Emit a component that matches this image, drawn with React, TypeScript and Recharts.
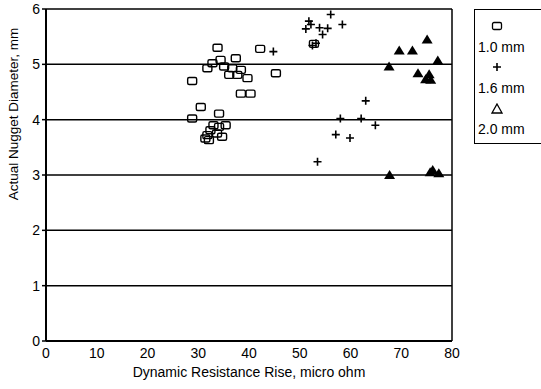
import {
  CartesianGrid,
  Legend,
  Scatter,
  ScatterChart,
  XAxis,
  YAxis,
} from 'recharts';

// [resistance rise (micro ohm), nugget diameter (mm)]
const electrode10: [number, number][] = [
  [33.8, 5.3], [42.2, 5.28], [45.3, 4.84], [31.8, 4.93], [32.8, 5.02], [34.4, 5.08],
  [37.4, 5.11], [35.1, 4.96], [36.7, 4.93], [36.1, 4.81], [37.7, 4.81], [38.4, 4.9],
  [39.7, 4.75], [28.8, 4.7], [38.4, 4.47], [40.3, 4.47], [30.5, 4.23], [28.8, 4.02],
  [34.1, 4.11], [33.0, 3.9], [34.1, 3.87], [35.4, 3.9], [32.4, 3.81], [33.7, 3.75],
  [31.8, 3.72], [32.1, 3.63], [34.7, 3.69], [31.4, 3.66], [52.8, 5.37],
];
const electrode16: [number, number][] = [
  [56.1, 5.9], [51.8, 5.78], [52.2, 5.72], [58.4, 5.72], [51.2, 5.64], [53.9, 5.66],
  [55.5, 5.65], [54.5, 5.54], [53.2, 5.38], [52.5, 5.34], [44.8, 5.23], [63.0, 4.34],
  [58.0, 4.02], [62.1, 4.02], [64.9, 3.9], [57.1, 3.73], [59.9, 3.67], [53.5, 3.24],
];
const electrode20: [number, number][] = [
  [75.1, 5.45], [69.6, 5.25], [72.2, 5.25], [77.2, 5.07], [67.6, 4.96], [73.3, 4.84],
  [75.5, 4.82], [74.8, 4.73], [75.8, 4.72], [67.7, 3.0], [76.2, 3.09], [77.4, 3.03],
  [75.7, 3.05],
];
const seriesNames = ['1.0 mm', '1.6 mm', '2.0 mm'];
const xTicks = [0, 10, 20, 30, 40, 50, 60, 70, 80];
const yTicks = [0, 1, 2, 3, 4, 5, 6];

const toPoints = (arr: [number, number][]) => arr.map(([x, y]) => ({ x, y }));

const FONT = '"Liberation Sans", Arial, sans-serif';

const SquareDot = (p: any) => (
  <rect x={p.cx - 4.5} y={p.cy - 3.5} width={9} height={7} rx={1.5} fill="none" stroke="#000" strokeWidth={1.4} />
);
const PlusDot = (p: any) => (
  <path d={`M${p.cx - 4},${p.cy}H${p.cx + 4}M${p.cx},${p.cy - 4}V${p.cy + 4}`} stroke="#000" strokeWidth={1.6} />
);
const TriDot = (p: any) => (
  <path d={`M${p.cx},${p.cy - 5}L${p.cx + 5.5},${p.cy + 4}L${p.cx - 5.5},${p.cy + 4}Z`} fill="#000" />
);

function LegendBox() {
  const icon = { height: 20.5, display: 'flex', alignItems: 'center', paddingLeft: 16 } as const;
  const txt = { height: 20.5, display: 'flex', alignItems: 'center', paddingLeft: 3 } as const;
  return (
    <div
      style={{
        border: '1.5px solid #000',
        borderRight: 'none',
        height: 135,
        boxSizing: 'border-box',
        paddingTop: 6,
        fontFamily: FONT,
        fontSize: 14,
        color: '#000',
        width: 67,
      }}
    >
      <div style={icon}>
        <svg width={12} height={10}><rect x={1.5} y={1.5} width={9} height={7} rx={1.5} fill="none" stroke="#000" strokeWidth={1.3} /></svg>
      </div>
      <div style={txt}>{seriesNames[0]}</div>
      <div style={icon}>
        <svg width={12} height={10}><path d="M2,5H10M6,1V9" stroke="#000" strokeWidth={1.6} /></svg>
      </div>
      <div style={txt}>{seriesNames[1]}</div>
      <div style={icon}>
        <svg width={12} height={11}><path d="M6,1L11,10L1,10Z" fill="none" stroke="#000" strokeWidth={1.3} /></svg>
      </div>
      <div style={txt}>{seriesNames[2]}</div>
    </div>
  );
}

const YTitle = () => (
  <text
    transform="translate(13,114) rotate(-90)"
    textAnchor="middle"
    dominantBaseline="central"
    fontSize={13.5}
    fontFamily={FONT}
    fill="#000"
  >
    Actual Nugget Diameter, mm
  </text>
);

export default function App() {
  const tick = { fill: '#000', fontSize: 14, fontFamily: FONT };
  return (
    <div style={{ position: 'absolute', left: 0, top: 0, width: 541, height: 389, overflow: 'hidden', background: '#fff' }}>
      {/* legend width gets added to the right offset, so margin.right is kept small */}
      <ScatterChart width={541} height={389} margin={{ top: 9, right: 22, left: 0, bottom: 0 }}>
        <CartesianGrid stroke="#000" strokeWidth={1.5} horizontalValues={yTicks} verticalValues={[80]} />
        <XAxis
          type="number"
          dataKey="x"
          domain={[0, 80]}
          ticks={xTicks}
          tickLine={false}
          axisLine={{ stroke: '#000', strokeWidth: 2 }}
          tick={tick}
          tickMargin={1}
          height={48}
          label={{ value: 'Dynamic Resistance Rise, micro ohm', position: 'insideBottom', offset: 12, fill: '#000', fontSize: 14, fontFamily: FONT }}
        />
        <YAxis
          type="number"
          dataKey="y"
          domain={[0, 6]}
          ticks={yTicks}
          tickSize={4}
          tickLine={{ stroke: '#000', strokeWidth: 1.5 }}
          axisLine={{ stroke: '#000', strokeWidth: 2 }}
          tick={tick}
          tickMargin={2}
          width={46}
          label={YTitle}
        />
        <Legend
          layout="horizontal"
          verticalAlign="middle"
          align="right"
          content={() => <LegendBox />}
          wrapperStyle={{ position: 'absolute', top: 9, left: 474, width: 67, height: 135 }}
        />
        <Scatter name={seriesNames[0]} data={toPoints(electrode10)} shape={SquareDot} isAnimationActive={false} />
        <Scatter name={seriesNames[1]} data={toPoints(electrode16)} shape={PlusDot} isAnimationActive={false} />
        <Scatter name={seriesNames[2]} data={toPoints(electrode20)} shape={TriDot} isAnimationActive={false} />
      </ScatterChart>
    </div>
  );
}
